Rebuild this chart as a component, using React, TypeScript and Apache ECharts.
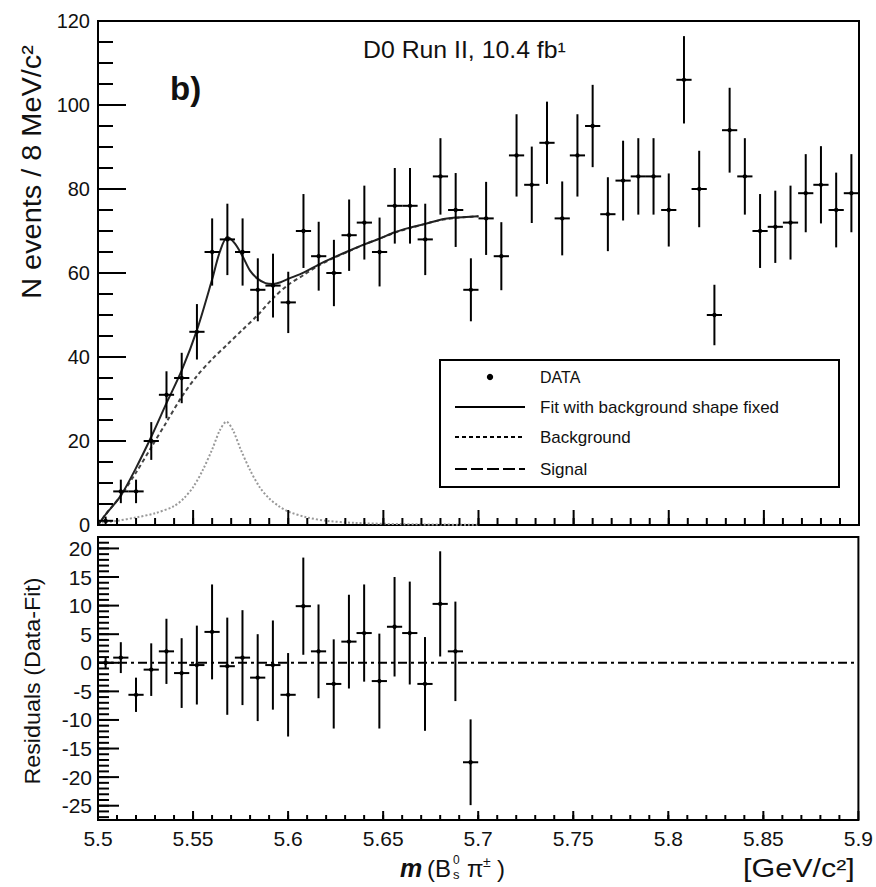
import React, { useEffect, useRef } from "react";
import * as echarts from "echarts";

// ---- data ----
const massCenters = [
  5.504, 5.512, 5.52, 5.528, 5.536, 5.544, 5.552, 5.56, 5.568, 5.576,
  5.584, 5.592, 5.6, 5.608, 5.616, 5.624, 5.632, 5.64, 5.648, 5.656,
  5.664, 5.672, 5.68, 5.688, 5.696, 5.704, 5.712, 5.72, 5.728, 5.736,
  5.744, 5.752, 5.76, 5.768, 5.776, 5.784, 5.792, 5.8, 5.808, 5.816,
  5.824, 5.832, 5.84, 5.848, 5.856, 5.864, 5.872, 5.88, 5.888, 5.896,
];
const counts = [
  1, 8, 8, 20, 31, 35, 46, 65, 68, 65,
  56, 57, 53, 70, 64, 60, 69, 72, 65, 76,
  76, 68, 83, 75, 56, 73, 64, 88, 81, 91,
  73, 88, 95, 74, 82, 83, 83, 75, 106, 80,
  50, 94, 83, 70, 71, 72, 79, 81, 75, 79,
];
const countErrors = [
  1.0, 2.8, 2.8, 4.5, 5.6, 6.0, 6.6, 8.0, 8.5, 8.0,
  7.5, 7.6, 7.3, 8.8, 8.2, 7.9, 8.5, 8.8, 8.2, 9.0,
  9.0, 8.5, 9.1, 8.8, 7.5, 8.7, 8.1, 9.8, 9.1, 9.8,
  8.8, 9.8, 9.8, 8.8, 9.5, 9.1, 9.1, 8.7, 10.4, 9.1,
  7.2, 10.1, 9.1, 8.8, 8.6, 8.8, 9.3, 9.2, 8.9, 9.3,
];

const residualCenters = [
  5.504, 5.512, 5.52, 5.528, 5.536, 5.544, 5.552, 5.56, 5.568, 5.576,
  5.584, 5.592, 5.6, 5.608, 5.616, 5.624, 5.632, 5.64, 5.648, 5.656,
  5.664, 5.672, 5.68, 5.688, 5.696,
];
const residuals = [
  0, 0.9, -5.6, -1.2, 2.0, -1.8, -0.4, 5.4, -0.6, 0.9,
  -2.6, -0.4, -5.6, 9.9, 2.0, -3.7, 3.7, 5.2, -3.2, 6.3,
  5.2, -3.7, 10.3, 2.0, -17.4,
];
const residualErrors = [
  1.0, 2.7, 3.0, 4.6, 5.7, 6.1, 6.9, 8.3, 8.5, 8.3,
  7.6, 7.8, 7.3, 8.5, 8.2, 7.8, 8.2, 8.5, 8.3, 8.7,
  9.0, 8.2, 9.2, 8.7, 7.5,
];

const fitMass = [
  5.5, 5.504, 5.512, 5.52, 5.528, 5.536, 5.544, 5.552, 5.56, 5.564,
  5.568, 5.572, 5.576, 5.58, 5.584, 5.588, 5.592, 5.596, 5.6, 5.608,
  5.616, 5.624, 5.632, 5.64, 5.648, 5.656, 5.664, 5.672, 5.68, 5.688,
  5.696, 5.7,
];
const fitValues = [
  0, 2.5, 7, 13.6, 21, 29, 36.8, 46.4, 58.5, 65,
  68.6, 67, 64, 60.5, 58.6, 57.6, 57.4, 57.8, 58.6, 60.1,
  62, 63.7, 65.3, 66.8, 68.2, 69.7, 70.8, 71.7, 72.7, 73.2,
  73.4, 73.5,
];

const bgMass = [
  5.5, 5.504, 5.512, 5.52, 5.528, 5.536, 5.544, 5.552, 5.56, 5.568,
  5.576, 5.584, 5.592, 5.6, 5.608, 5.616, 5.624, 5.632, 5.64, 5.648,
  5.656, 5.664, 5.672, 5.68, 5.688, 5.696, 5.7,
];
const bgValues = [
  0, 2.5, 7, 12.5, 18.5, 24.5, 30.5, 35.5, 39.5, 43,
  46.5, 50, 54, 57.2, 59.5, 61.8, 63.6, 65.2, 66.8, 68.2,
  69.6, 70.7, 71.7, 72.6, 73.1, 73.4, 73.5,
];

const sigMass = [
  5.5, 5.51, 5.52, 5.53, 5.54, 5.545, 5.55, 5.555, 5.56, 5.564,
  5.5675, 5.571, 5.575, 5.58, 5.585, 5.59, 5.595, 5.6, 5.61, 5.62,
  5.635, 5.66, 5.7,
];
const sigValues = [
  0.5, 1.0, 1.8, 2.8, 4.5, 6.3, 9.0, 13.0, 18.0, 22.5,
  24.6, 22.5, 18.0, 13.0, 9.0, 6.3, 4.5, 3.2, 1.8, 1.0,
  0.5, 0.2, 0.05,
];

const zeroLineMass = [5.5, 5.9];
const zeroLineValues = [0, 0];

// tick positions
const massMajorTicks = [5.5, 5.55, 5.6, 5.65, 5.7, 5.75, 5.8, 5.85, 5.9];
const countMajorTicks = [0, 20, 40, 60, 80, 100, 120];
const residualMajorTicks = [-25, -20, -15, -10, -5, 0, 5, 10, 15, 20];

const MASS_MIN = 5.5, MASS_MAX = 5.9;
const COUNT_MIN = 0, COUNT_MAX = 120;
const RES_MIN = -27.5, RES_MAX = 22;

const massMinorTicks: number[] = [];
for (let i = 1; i < 40; i++) massMinorTicks.push(+(MASS_MIN + i * 0.01).toFixed(3));
const countMinorTicks: number[] = [];
for (let v = 5; v < 120; v += 5) countMinorTicks.push(v);
const residualMinorTicks: number[] = [];
for (let v = -27; v <= 21; v++) residualMinorTicks.push(v);

const BIN_HALF = 0.004;
const FONT = "Liberation Sans, Arial, Helvetica, sans-serif";
const INK = "#111";

function errorBarItem(params: any, api: any) {
  const x = api.value(0);
  const y = api.value(1);
  const e = api.value(2);
  const c = api.coord([x, y]);
  const top = api.coord([x, y + e]);
  const bot = api.coord([x, y - e]);
  const l = api.coord([x - BIN_HALF, y]);
  const r = api.coord([x + BIN_HALF, y]);
  return {
    type: "group",
    children: [
      { type: "line", shape: { x1: c[0], y1: top[1], x2: c[0], y2: bot[1] }, style: { stroke: "#000", lineWidth: 2 } },
      { type: "line", shape: { x1: l[0], y1: c[1], x2: r[0], y2: c[1] }, style: { stroke: "#000", lineWidth: 2 } },
      { type: "circle", shape: { cx: c[0], cy: c[1], r: 2.2 }, style: { fill: "#000" } },
    ],
  };
}

const pairs = (xs: number[], ys: number[]) => xs.map((x, i) => [x, ys[i]]);

export default function App() {
  const ref = useRef<HTMLDivElement>(null);

  useEffect(() => {
    if (!ref.current) return;
    const chart = echarts.init(ref.current, undefined, { renderer: "svg" });

    const textGraphics: any[] = [
      {
        type: "text", x: 363, y: 50, scaleX: 1.08,
        style: { text: "D0 Run II, 10.4 fb¹", fontSize: 23, fontFamily: FONT, fill: INK, align: "left", verticalAlign: "middle" },
      },
      {
        type: "text", x: 170, y: 88,
        style: { text: "b)", fontSize: 33, fontWeight: "bold", fontFamily: FONT, fill: INK, align: "left", verticalAlign: "middle" },
      },
      {
        type: "text", x: 32, y: 172, rotation: Math.PI / 2, scaleX: 1.07,
        style: { text: "N events / 8 MeV/c²", fontSize: 27, fontFamily: FONT, fill: INK, align: "center", verticalAlign: "middle" },
      },
      {
        type: "text", x: 32, y: 681, rotation: Math.PI / 2, scaleX: 1.06,
        style: { text: "Residuals (Data-Fit)", fontSize: 22, fontFamily: FONT, fill: INK, align: "center", verticalAlign: "middle" },
      },
      { type: "text", x: 400, y: 868, style: { text: "m", fontSize: 25, fontWeight: "bold", fontStyle: "italic", fontFamily: FONT, fill: INK, align: "left", verticalAlign: "middle" } },
      { type: "text", x: 427, y: 868, style: { text: "(B", fontSize: 24, fontFamily: FONT, fill: INK, align: "left", verticalAlign: "middle" } },
      { type: "text", x: 453, y: 860, style: { text: "0", fontSize: 12, fontFamily: FONT, fill: INK, align: "left", verticalAlign: "middle" } },
      { type: "text", x: 453, y: 874, style: { text: "s", fontSize: 13, fontFamily: FONT, fill: INK, align: "left", verticalAlign: "middle" } },
      { type: "text", x: 467, y: 868, style: { text: "π", fontSize: 24, fontFamily: FONT, fill: INK, align: "left", verticalAlign: "middle" } },
      { type: "text", x: 483, y: 862, style: { text: "±", fontSize: 14, fontFamily: FONT, fill: INK, align: "left", verticalAlign: "middle" } },
      { type: "text", x: 497, y: 868, style: { text: ")", fontSize: 24, fontFamily: FONT, fill: INK, align: "left", verticalAlign: "middle" } },
      {
        type: "text", x: 743, y: 868, scaleX: 1.22,
        style: { text: "[GeV/c²]", fontSize: 25, fontFamily: FONT, fill: INK, align: "left", verticalAlign: "middle" },
      },
      {
        type: "group", z: 20,
        children: [
          { type: "rect", shape: { x: 440, y: 360, width: 399, height: 127 }, style: { fill: "#fff", stroke: "#000", lineWidth: 2 } },
          { type: "circle", shape: { cx: 490, cy: 377, r: 3.2 }, style: { fill: "#000" } },
          { type: "line", shape: { x1: 455, y1: 407, x2: 525, y2: 407 }, style: { stroke: "#000", lineWidth: 2 } },
          { type: "line", shape: { x1: 455, y1: 437, x2: 525, y2: 437 }, style: { stroke: "#000", lineWidth: 2, lineDash: [4, 3] } },
          { type: "line", shape: { x1: 455, y1: 469, x2: 525, y2: 469 }, style: { stroke: "#000", lineWidth: 2, lineDash: [12, 4] } },
          { type: "text", x: 540, y: 377, style: { text: "DATA", fontSize: 16, fontFamily: FONT, fill: INK, align: "left", verticalAlign: "middle" } },
          { type: "text", x: 540, y: 407, style: { text: "Fit with background shape fixed", fontSize: 17, fontFamily: FONT, fill: INK, align: "left", verticalAlign: "middle" } },
          { type: "text", x: 540, y: 437, style: { text: "Background", fontSize: 17, fontFamily: FONT, fill: INK, align: "left", verticalAlign: "middle" } },
          { type: "text", x: 540, y: 469, style: { text: "Signal", fontSize: 17, fontFamily: FONT, fill: INK, align: "left", verticalAlign: "middle" } },
        ],
      },
    ];

    const option: any = {
      animation: false,
      grid: [
        { left: 98, top: 21, width: 761, height: 504, show: true, borderColor: "#000", borderWidth: 2 },
        { left: 98, top: 537, width: 761, height: 283, show: true, borderColor: "#000", borderWidth: 2 },
      ],
      xAxis: [
        {
          type: "value", gridIndex: 0, min: MASS_MIN, max: MASS_MAX, interval: 0.05,
          axisLine: { show: false, onZero: false },
          axisTick: { show: false },
          axisLabel: { show: false },
          splitLine: { show: false },
        },
        {
          type: "value", gridIndex: 1, min: MASS_MIN, max: MASS_MAX, interval: 0.05,
          axisLine: { show: false, onZero: false },
          axisTick: { show: false },
          axisLabel: {
            show: true, fontSize: 21, margin: 8,
            formatter: (v: number) => String(parseFloat(v.toFixed(2))),
            color: INK, fontFamily: FONT,
          },
          splitLine: { show: false },
        },
      ],
      yAxis: [
        {
          type: "value", gridIndex: 0, min: COUNT_MIN, max: COUNT_MAX, interval: 20,
          axisLine: { show: false, onZero: false },
          axisTick: { show: false },
          axisLabel: { show: true, fontSize: 20, margin: 8, color: INK, fontFamily: FONT },
          splitLine: { show: false },
        },
        {
          type: "value", gridIndex: 1, min: RES_MIN, max: RES_MAX,
          axisLine: { show: false, onZero: false },
          axisTick: { show: false, customValues: residualMajorTicks },
          axisLabel: { show: true, fontSize: 21, margin: 6, customValues: residualMajorTicks, color: INK, fontFamily: FONT },
          splitLine: { show: false },
        },
      ],
      series: [
        {
          name: "Background", type: "line", xAxisIndex: 0, yAxisIndex: 0,
          data: pairs(bgMass, bgValues), showSymbol: false, smooth: 0.3, z: 3,
          lineStyle: { color: "#444", width: 2, type: [4, 3] },
        },
        {
          name: "Signal", type: "line", xAxisIndex: 0, yAxisIndex: 0,
          data: pairs(sigMass, sigValues), showSymbol: false, smooth: 0.3, z: 3,
          lineStyle: { color: "#999", width: 2, type: [2, 2] },
        },
        {
          name: "Fit", type: "line", xAxisIndex: 0, yAxisIndex: 0,
          data: pairs(fitMass, fitValues), showSymbol: false, smooth: 0.3, z: 4,
          lineStyle: { color: "#222", width: 2 },
        },
        {
          name: "DATA", type: "custom", xAxisIndex: 0, yAxisIndex: 0, clip: true, z: 5,
          renderItem: errorBarItem,
          encode: { x: 0, y: 1 },
          data: massCenters.map((m, i) => [m, counts[i], countErrors[i]]),
        },
        {
          name: "Zero", type: "line", xAxisIndex: 1, yAxisIndex: 1,
          data: pairs(zeroLineMass, zeroLineValues), showSymbol: false, z: 3,
          lineStyle: { color: "#000", width: 2, type: [9, 4, 3, 4] },
        },
        {
          name: "Residuals", type: "custom", xAxisIndex: 1, yAxisIndex: 1, clip: true, z: 5,
          renderItem: errorBarItem,
          encode: { x: 0, y: 1 },
          data: residualCenters.map((m, i) => [m, residuals[i], residualErrors[i]]),
        },
      ],
      graphic: textGraphics,
    };

    chart.setOption(option);

    // inward tick marks, placed through the grids' own scales
    const px = (g: number, x: number, y: number) =>
      chart.convertToPixel({ gridIndex: g } as any, [x, y]) as unknown as number[];
    const tickLines: any[] = [];
    const xTick = (g: number, v: number, base: number, len: number) => {
      const p = px(g, v, base);
      if (!p) return;
      tickLines.push({ type: "line", z: 30, silent: true, shape: { x1: p[0], y1: p[1], x2: p[0], y2: p[1] - len }, style: { stroke: "#000", lineWidth: 2 } });
    };
    const yTick = (g: number, v: number, base: number, len: number) => {
      const p = px(g, base, v);
      if (!p) return;
      tickLines.push({ type: "line", z: 30, silent: true, shape: { x1: p[0], y1: p[1], x2: p[0] + len, y2: p[1] }, style: { stroke: "#000", lineWidth: 2 } });
    };
    massMinorTicks.forEach((v) => xTick(0, v, COUNT_MIN, 7));
    massMajorTicks.forEach((v) => xTick(0, v, COUNT_MIN, 15));
    countMinorTicks.forEach((v) => yTick(0, v, MASS_MIN, 15));
    countMajorTicks.forEach((v) => yTick(0, v, MASS_MIN, 28));
    massMinorTicks.forEach((v) => xTick(1, v, RES_MIN, 5));
    massMajorTicks.forEach((v) => xTick(1, v, RES_MIN, 9));
    residualMinorTicks.forEach((v) => yTick(1, v, MASS_MIN, 11));
    residualMajorTicks.forEach((v) => yTick(1, v, MASS_MIN, 21));

    chart.setOption({ graphic: [...textGraphics, ...tickLines] });

    return () => chart.dispose();
  }, []);

  return (
    <div
      ref={ref}
      style={{ position: "fixed", left: 0, top: 0, width: 876, height: 887, background: "#fff" }}
    />
  );
}
